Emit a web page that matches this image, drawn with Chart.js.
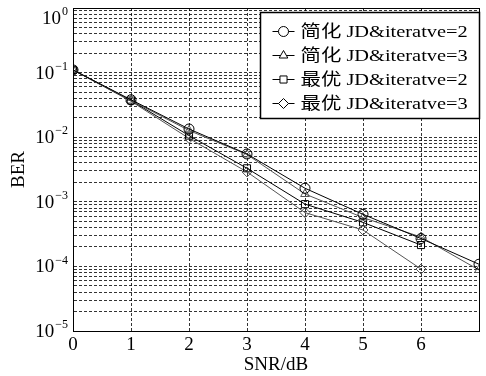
<!DOCTYPE html>
<html>
<head>
<meta charset="utf-8">
<script src="https://cdn.jsdelivr.net/npm/chart.js@4/dist/chart.umd.min.js"></script>
<style>
html,body{margin:0;padding:0;background:#fff;}
#wrap{width:486px;height:376px;position:relative;}
</style>
</head>
<body>
<div id="wrap"><canvas id="c" width="486" height="376"></canvas></div>
<script>
// ---- data ----
const snr = [0, 1, 2, 3, 4, 5, 6, 7];
const xTickLabels = ['0', '1', '2', '3', '4', '5', '6', ''];
const yDecades = [-5, -4, -3, -2, -1, 0];
const yTickBase = '10';
const yTickExps = ['\u22125', '\u22124', '\u22123', '\u22122', '\u22121', '0'];
const seriesNames = ['简化 JD&iteratve=2', '简化 JD&iteratve=3', '最优 JD&iteratve=2', '最优 JD&iteratve=3'];
const simp2 = [0.11, 0.038, 0.0134, 0.0055, 0.00162, 0.00064, 0.00027, 0.000108];
const simp3 = [0.11, 0.037, 0.0127, 0.0054, 0.00132, 0.00057, 0.000285, 0.000088];
const opt2  = [0.11, 0.037, 0.0106, 0.0033, 0.00092, 0.00048, 0.000214];
const opt3  = [0.11, 0.036, 0.0096, 0.0029, 0.00068, 0.000366, 0.000091];

const styles = [
  {pointStyle: 'circle', color: '#000'},
  {pointStyle: 'triangle', color: '#555'},
  {pointStyle: 'rect', color: '#000'},
  {pointStyle: 'rectRot', color: '#555'}
];
const allSeries = [simp2, simp3, opt2, opt3];

const datasets = allSeries.map((s, i) => ({
  label: seriesNames[i],
  data: s.map((v, j) => ({x: snr[j], y: v})),
  borderColor: styles[i].color,
  backgroundColor: 'rgba(0,0,0,0)',
  borderWidth: 1,
  pointStyle: styles[i].pointStyle,
  pointRadius: 5,
  pointBorderWidth: 1,
  pointBorderColor: styles[i].color,
  pointBackgroundColor: 'rgba(0,0,0,0)',
  tension: 0
}));

const yTickValues = [];
for (let d = yDecades[0]; d < yDecades[yDecades.length - 1]; d++) {
  for (let m = 1; m <= 9; m++) yTickValues.push(m * Math.pow(10, d));
}
yTickValues.push(Math.pow(10, yDecades[yDecades.length - 1]));

const boxPlugin = {
  id: 'box',
  afterDraw(chart) {
    const {ctx, chartArea: a} = chart;
    const ys = chart.scales.y;
    ctx.save();
    ctx.strokeStyle = '#000';
    ctx.lineWidth = 1;
    ctx.setLineDash([]);
    ctx.strokeRect(Math.round(a.left) + 0.5, Math.round(a.top) + 0.5,
                   Math.round(a.right - a.left), Math.round(a.bottom - a.top));
    // y tick labels with superscript exponents
    ctx.fillStyle = '#000';
    ctx.textBaseline = 'middle';
    yDecades.forEach((d, i) => {
      let py = ys.getPixelForValue(Math.pow(10, d));
      if (i === yDecades.length - 1) py += 10;
      ctx.font = '12px "Liberation Serif"';
      const ew = ctx.measureText(yTickExps[i]).width;
      const ex = a.left - 5 - ew;
      ctx.textAlign = 'left';
      ctx.fillText(yTickExps[i], ex, py - 6);
      ctx.font = '19px "Liberation Serif"';
      ctx.textAlign = 'right';
      ctx.fillText(yTickBase, ex - 1, py + 1);
    });
    // legend
    const bw = 219, bh = 106;
    const bx = Math.round(a.right) - bw + 0.5, by = Math.round(a.top) + 4.5;
    ctx.fillStyle = '#fff';
    ctx.fillRect(bx, by, bw, bh);
    ctx.lineWidth = 1.5;
    ctx.strokeRect(bx, by, bw, bh);
    ctx.lineWidth = 1;
    chart.data.datasets.forEach((ds, i) => {
      const cy = by + 19 + i * 24;
      ctx.strokeStyle = '#000';
      ctx.beginPath();
      ctx.moveTo(bx + 12, cy);
      ctx.lineTo(bx + 34, cy);
      ctx.stroke();
      Chart.helpers.drawPoint(ctx, {pointStyle: ds.pointStyle, radius: 5, borderWidth: 1}, bx + 23, cy);
      ctx.save();
      ctx.translate(bx + 40, cy);
      ctx.scale(1.2, 1);
      ctx.fillStyle = '#000';
      ctx.font = '17px "Liberation Serif", "Noto Sans CJK SC"';
      ctx.textBaseline = 'middle';
      ctx.textAlign = 'left';
      ctx.fillText(ds.label, 0, 1);
      ctx.restore();
    });
    ctx.restore();
  }
};

new Chart(document.getElementById('c'), {
  type: 'line',
  data: {datasets},
  plugins: [boxPlugin],
  options: {
    responsive: false,
    animation: false,
    layout: {padding: {top: 8, right: 7, left: 0, bottom: 0}},
    plugins: {legend: {display: false}, tooltip: {enabled: false}},
    scales: {
      x: {
        type: 'linear', min: 0, max: 7,
        afterFit(s) { s.height = 45; },
        ticks: {
          stepSize: 1, padding: 3, color: '#000',
          font: {family: '"Liberation Serif"', size: 19},
          callback: (v) => xTickLabels[Math.round(v)] ?? ''
        },
        grid: {color: '#000', lineWidth: 0.8, drawTicks: false},
        border: {display: true, color: '#000', dash: [3, 2]},
        title: {display: true, text: 'SNR/dB', color: '#000',
                font: {family: '"Liberation Serif"', size: 19}, padding: {top: 0, bottom: 0}}
      },
      y: {
        type: 'logarithmic', min: 1e-5, max: 1,
        afterFit(s) { s.width = 73; },
        afterBuildTicks(s) { s.ticks = yTickValues.map(v => ({value: v})); },
        ticks: {display: false},
        grid: {color: '#000', lineWidth: 0.8, drawTicks: false},
        border: {display: true, color: '#000', dash: [3, 2]},
        title: {display: true, text: 'BER', color: '#000',
                font: {family: '"Liberation Serif"', size: 19}, padding: {top: 8, bottom: 0}}
      }
    }
  }
});
</script>
</body>
</html>
